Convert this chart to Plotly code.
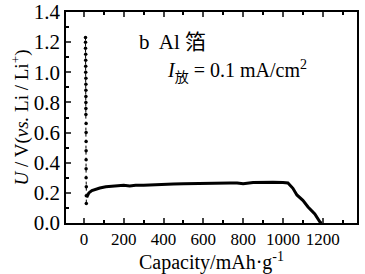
import plotly.graph_objects as go

# initial dotted segment (capacity, voltage)
init_cap = [8, 8, 8, 9, 9, 9, 9, 10, 10, 10, 10, 10, 10, 10, 11, 11, 11, 11, 11, 11, 11, 12, 12, 12]
init_v = [1.23, 1.20, 1.16, 1.12, 1.08, 1.04, 1.00, 0.96, 0.92, 0.88, 0.84, 0.80, 0.76, 0.72,
          0.66, 0.60, 0.54, 0.48, 0.42, 0.36, 0.30, 0.24, 0.18, 0.13]

# main discharge curve
cap = [14, 18, 25, 40, 60, 80, 110, 150, 200, 230, 260, 300, 380, 450, 500, 560, 620, 680,
       734, 770, 800, 850, 900, 950, 1000, 1025, 1050, 1070, 1100, 1126, 1160, 1186, 1200]
volt = [0.17, 0.186, 0.20, 0.215, 0.225, 0.232, 0.24, 0.245, 0.25, 0.245, 0.25, 0.25, 0.252,
        0.258, 0.26, 0.26, 0.262, 0.265, 0.265, 0.266, 0.26, 0.268, 0.27, 0.27, 0.268, 0.265,
        0.23, 0.186, 0.15, 0.106, 0.06, 0.007, -0.01]

x_ticks = [0, 200, 400, 600, 800, 1000, 1200]
y_ticks = [0.0, 0.2, 0.4, 0.6, 0.8, 1.0, 1.2, 1.4]

font = "Liberation Serif"

fig = go.Figure()
fig.add_trace(go.Scatter(x=init_cap, y=init_v, mode="markers+lines",
                         line=dict(color="black", width=1, dash="dot"),
                         marker=dict(color="black", size=3.5), showlegend=False))
fig.add_trace(go.Scatter(x=cap, y=volt, mode="lines",
                         line=dict(color="black", width=3), showlegend=False))

fig.add_annotation(x=0.245, y=0.86, xref="paper", yref="paper", xanchor="left", yanchor="middle",
                   text="b  Al 箔", showarrow=False,
                   font=dict(family=font + ", Noto Sans CJK SC", size=21, color="black"))
fig.add_annotation(x=0.34, y=0.72, xref="paper", yref="paper", xanchor="left", yanchor="middle",
                   text="<i>I</i><sub>放</sub> = 0.1 mA/cm<sup>2</sup>", showarrow=False,
                   font=dict(family=font + ", Noto Sans CJK SC", size=20, color="black"))

fig.update_layout(
    width=365, height=274,
    margin=dict(l=66, r=8, t=12, b=51),
    paper_bgcolor="white", plot_bgcolor="white",
    font=dict(family=font, color="black", size=20),
    xaxis=dict(range=[-90, 1372], tickvals=x_ticks, ticks="inside", ticklen=5,
               tickwidth=1.5, showline=True, linecolor="black", linewidth=1.5,
               mirror="allticks", showgrid=False, zeroline=False, tickangle=0,
               automargin=False,
               minor=dict(dtick=100, tick0=0, ticks="inside", ticklen=3, tickcolor="black"),
               title=dict(text="Capacity/mAh·g<sup>-1</sup>", standoff=4,
                          font=dict(size=20)),
               tickfont=dict(size=17)),
    yaxis=dict(range=[0, 1.4], tickvals=y_ticks, tickformat=".1f", ticks="inside",
               ticklen=5, tickwidth=1.5, showline=True, linecolor="black", linewidth=1.5,
               mirror=True, showgrid=False, zeroline=False, automargin=False,
               minor=dict(dtick=0.1, tick0=0, ticks="inside", ticklen=3, tickcolor="black"),
               title=dict(text="<i>U</i> / V(<i>vs.</i> Li / Li<sup>+</sup>)", standoff=0,
                          font=dict(size=19)),
               tickfont=dict(size=21)),
)

fig.write_html("out.html")
